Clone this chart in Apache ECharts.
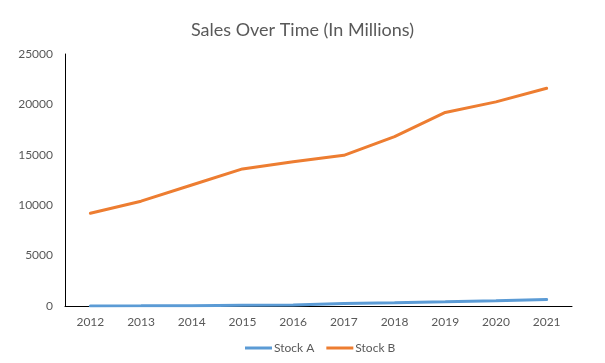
<!DOCTYPE html>
<html><head><meta charset="utf-8">
<script src="https://cdn.jsdelivr.net/npm/echarts@6/dist/echarts.min.js"></script>
<style>html,body{margin:0;padding:0;background:#fff}#c{width:605px;height:363px}</style>
</head><body><div id="c"></div>
<script>
const years = ['2012','2013','2014','2015','2016','2017','2018','2019','2020','2021'];
const stockA = [5, 15, 30, 70, 110, 250, 330, 420, 520, 650];
const stockB = [9200, 10400, 12000, 13600, 14300, 14950, 16800, 19200, 20250, 21600];
const font = 'Lato, "Open Sans", sans-serif';
const chart = echarts.init(document.getElementById('c'));
chart.setOption({
  animation: false,
  backgroundColor: '#fff',
  title: {text: 'Sales Over Time (In Millions)', left: 'center', top: 16,
    textStyle: {fontFamily: font, fontSize: 18, fontWeight: 'normal', color: '#595959'}},
  grid: {left: 65, right: 33, top: 54, bottom: 57},
  legend: {top: 337, left: 240, icon: 'rect', itemWidth: 27, itemHeight: 3, itemGap: 12,
    textStyle: {fontFamily: font, fontSize: 12, color: '#595959', padding: [0,0,0,-3]},
    data: ['Stock A','Stock B']},
  xAxis: {type: 'category', data: years, boundaryGap: true,
    axisLine: {lineStyle: {color: '#000', width: 1}}, axisTick: {show: false},
    axisLabel: {fontFamily: font, fontSize: 12, color: '#595959', margin: 10}},
  yAxis: {type: 'value', min: 0, max: 25000, interval: 5000,
    axisLine: {show: true, lineStyle: {color: '#000', width: 1}}, axisTick: {show: false},
    splitLine: {show: false},
    axisLabel: {fontFamily: font, fontSize: 12, color: '#595959', margin: 12,
      formatter: v => String(v)}},
  series: [
    {name: 'Stock A', type: 'line', data: stockA, symbol: 'none', color: '#5B9BD5',
      lineStyle: {width: 3, color: '#5B9BD5', cap: 'round'}},
    {name: 'Stock B', type: 'line', data: stockB, symbol: 'none', color: '#ED7D31',
      lineStyle: {width: 3, color: '#ED7D31', cap: 'round'}}
  ]
});
</script></body></html>
